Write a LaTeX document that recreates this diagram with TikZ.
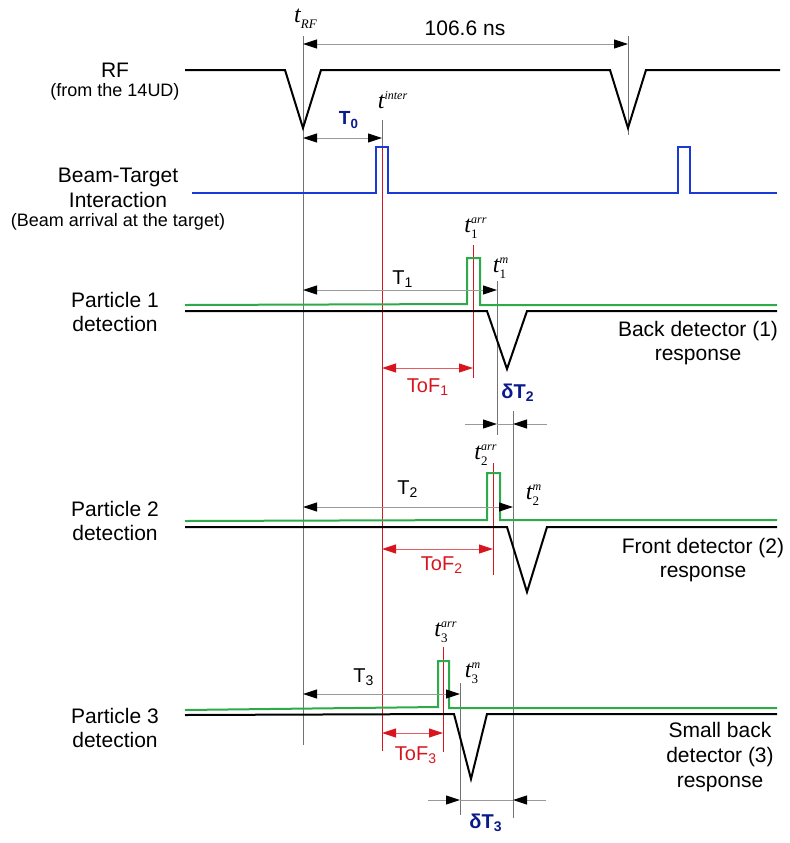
\documentclass[tikz,border=0pt]{standalone}
\usepackage{amsmath}
\usepackage{fontspec}
\setmainfont{Liberation Sans}
\newfontfamily\serifit{Liberation Serif}
\usetikzlibrary{arrows.meta,positioning}
\definecolor{beamc}{HTML}{1A3AD8}
\definecolor{detc}{HTML}{2EAA4A}
\definecolor{tofc}{HTML}{D8151E}
\definecolor{navyc}{HTML}{0A1A8A}
% time mark: t with subscript #1 and superscript #2
\newcommand{\tmark}[2]{$\hbox{\fontsize{12}{12}\selectfont\serifit\itshape t}%
  ^{\hbox{\fontsize{6}{6}\selectfont\serifit\itshape #2}}%
  _{\hbox{\fontsize{6.5}{6.5}\selectfont\serifit #1}}$}

\begin{document}
\begin{tikzpicture}[x=0.5pt, y=-0.5pt,
  lbl/.style={font=\fontsize{10.5}{12.4}\selectfont, align=center, inner sep=0pt},
  note/.style={font=\fontsize{9}{11}\selectfont, align=center, inner sep=0pt},
  tlbl/.style={font=\fontsize{12}{12}\selectfont, inner sep=0pt},
  dlbl/.style={font=\fontsize{10}{12}\selectfont, inner sep=0pt},
  toflbl/.style={dlbl, text=tofc},
  blbl/.style={font=\fontsize{10}{12}\selectfont\bfseries, inner sep=0pt, text=navyc},
  sig/.style={line width=1pt, line join=miter},
  beam/.style={sig, draw=beamc},
  det/.style={sig, draw=detc},
  guide/.style={draw=black!55, line width=0.45pt},
  tofguide/.style={draw=tofc, line width=0.45pt},
  dim/.style={draw=black!40, line width=0.45pt,
    {Triangle[length=7pt,width=4.5pt,color=black]}-{Triangle[length=7pt,width=4.5pt,color=black]}},
  tofdim/.style={draw=tofc!70, line width=0.45pt,
    {Triangle[length=7pt,width=4.5pt,color=tofc]}-{Triangle[length=7pt,width=4.5pt,color=tofc]}},
  tipin/.style={draw=black!40, line width=0.45pt, -{Triangle[length=7pt,width=4.5pt,color=black]}}
]
  \useasboundingbox (0,0) rectangle (790,843);

  % time marks
  \coordinate (rf0 top) at (303,36);  \coordinate (rf0 bot) at (303,745);
  \coordinate (rf1 top) at (628,36);  \coordinate (rf1 bot) at (628,135);
  \coordinate (int top) at (382,120); \coordinate (int mid) at (382,147);
  \coordinate (int bot) at (382,751);
  \coordinate (m1 top) at (497,281);  \coordinate (m1 bot) at (497,435);
  \coordinate (m2 top) at (513,411);  \coordinate (m2 bot) at (513,818);
  \coordinate (m3 top) at (460,683);  \coordinate (m3 bot) at (460,815);
  \coordinate (a1 top) at (473,245);  \coordinate (a1 bot) at (473,378);
  \coordinate (a2 top) at (493,463);  \coordinate (a2 bot) at (493,575);
  \coordinate (a3 top) at (443,647);  \coordinate (a3 bot) at (443,752);

  \draw[guide] (rf0 top) -- (rf0 bot);
  \draw[guide] (rf1 top) -- (rf1 bot);
  \draw[guide] (int top) -- (int mid);
  \draw[guide] (m1 top) -- (m1 bot);
  \draw[guide] (m2 top) -- (m2 bot);
  \draw[guide] (m3 top) -- (m3 bot);
  \draw[tofguide] (int mid) -- (int bot);
  \draw[tofguide] (a1 top) -- (a1 bot);
  \draw[tofguide] (a2 top) -- (a2 bot);
  \draw[tofguide] (a3 top) -- (a3 bot);

  % signals
  \draw[sig] (185,70) -- (285,70) -- (303,128) -- (321,70) -- (610,70)
    -- (628,128) -- (646,70) -- (780,70);
  \draw[beam] (192,193) -- (376,193) -- (376,147) -- (388,147) -- (388,193)
    -- (678,193) -- (678,147) -- (690,147) -- (690,193) -- (777,193);
  \draw[det] (185,305) -- (467,304) -- (467,258) -- (480,258) -- (480,305) -- (777,305);
  \draw[sig] (185,311) -- (487,311) -- (507,369) -- (527,311) -- (777,311);
  \draw[det] (185,521) -- (487,520) -- (487,473) -- (500,473) -- (500,520) -- (777,520);
  \draw[sig] (185,527) -- (507,527) -- (527,592) -- (547,527) -- (777,527);
  \draw[det] (185,710) -- (438,707) -- (438,661) -- (449,661) -- (449,708) -- (777,708);
  \draw[sig] (185,715) -- (454,714) -- (471,779) -- (487,714) -- (777,714);

  % intervals
  \draw[dim] (rf0 top |- 0,44) -- (rf1 top |- 0,44);
  \draw[dim] (rf0 top |- 0,138) -- (int top |- 0,138);
  \draw[dim] (rf0 top |- 0,290) -- (m1 top |- 0,290);
  \draw[dim] (rf0 top |- 0,507) -- (m2 top |- 0,507);
  \draw[dim] (rf0 top |- 0,694) -- (m3 top |- 0,694);
  \draw[tofdim] (int bot |- 0,368) -- (a1 top |- 0,368);
  \draw[tofdim] (int bot |- 0,549) -- (a2 top |- 0,549);
  \draw[tofdim] (int bot |- 0,733) -- (a3 top |- 0,733);

  \coordinate (d2l) at (465,424); \coordinate (d2r) at (547,424);
  \draw[tipin] (d2l) -- (m1 top |- d2l);
  \draw[tipin] (d2r) -- (m2 top |- d2r);
  \draw[dim, arrows=-] (m1 top |- d2l) -- (m2 top |- d2l);
  \coordinate (d3l) at (428,800); \coordinate (d3r) at (546,800);
  \draw[tipin] (d3l) -- (m3 top |- d3l);
  \draw[tipin] (d3r) -- (m2 top |- d3r);
  \draw[dim, arrows=-] (m3 top |- d3l) -- (m2 top |- d3l);

  % interval labels
  \node[lbl] (period) at (465,28) {106.6 ns};
  \node[blbl, font=\fontsize{9.5}{11}\selectfont\bfseries] (tzero) at (349,120) {T$_{\text{\bfseries 0}}$};
  \node[dlbl] (tone) at (403,279) {T$_{\text{1}}$};
  \node[dlbl] (ttwo) at (408,489) {T$_{\text{2}}$};
  \node[dlbl] (tthree) at (364,677) {T$_{\text{3}}$};
  \node[toflbl] (tofone) at (428,387) {ToF$_{\text{1}}$};
  \node[toflbl] (toftwo) at (442,565) {ToF$_{\text{2}}$};
  \node[toflbl] (tofthree) at (416,755) {ToF$_{\text{3}}$};
  \node[blbl] (dtwo) at (518,393) {δT$_{\text{\bfseries 2}}$};
  \node[blbl] (dthree) at (486,823) {δT$_{\text{\bfseries 3}}$};

  % time mark labels
  \node[tlbl] (trf) at (306,19) {\tmark{\itshape RF}{}};
  \node[tlbl] (tint) at (393,103) {\tmark{}{inter}};
  \node[tlbl] (tarr1) at (476,228) {\tmark{1}{arr}};
  \node[tlbl] (tm1) at (501,268) {\tmark{1}{m}};
  \node[tlbl] (tarr2) at (486,455) {\tmark{2}{arr}};
  \node[tlbl] (tm2) at (534,495) {\tmark{2}{m}};
  \node[tlbl] (tarr3) at (446,632) {\tmark{3}{arr}};
  \node[tlbl] (tm3) at (473,673) {\tmark{3}{m}};

  % channel labels
  \node[lbl] (rf) at (115,70) {RF};
  \node[note] (rfsrc) at (115,92) {(from the 14UD)};
  \node[lbl] (bt) at (118,188) {Beam-Target\\Interaction};
  \node[note] (btsrc) at (118,222) {(Beam arrival at the target)};
  \node[lbl] (p1) at (115,312) {Particle 1\\detection};
  \node[lbl] (p2) at (115,521) {Particle 2\\detection};
  \node[lbl] (p3) at (115,728) {Particle 3\\detection};
  \node[lbl] (r1) at (698,343) {Back detector (1)\\response};
  \node[lbl] (r2) at (703,560) {Front detector (2)\\response};
  \node[lbl] (r3) at (720,757) {Small back\\detector (3)\\response};
\end{tikzpicture}
\end{document}
